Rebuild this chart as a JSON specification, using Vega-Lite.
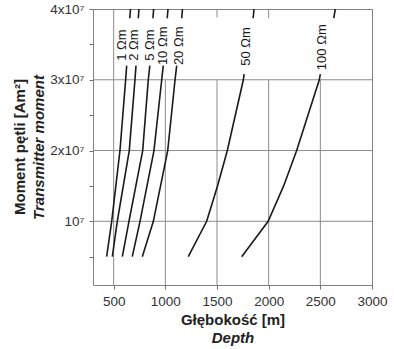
{
  "$schema": "https://vega.github.io/schema/vega-lite/v6.json",
  "autosize": "none",
  "padding": {"left": 93, "top": 9, "right": 22, "bottom": 64},
  "width": 279,
  "height": 276,
  "title": {"text": "Moment pętli [Am²]", "orient": "left", "anchor": "middle", "offset": 4, "font": "Liberation Sans", "fontSize": 15, "fontWeight": "bold", "color": "#222222"},
  "config": {
    "font": "Liberation Sans",
    "view": {"stroke": "#808080", "strokeWidth": 1},
    "axis": {
      "domain": false,
      "grid": false,
      "tickColor": "#707070",
      "tickSize": 4,
      "labelColor": "#333333",
      "labelFont": "Liberation Sans",
      "labelFontSize": 13.5,
      "labelFlush": false,
      "labelOverlap": false,
      "titleFont": "Liberation Sans",
      "titleFontSize": 15,
      "titleFontWeight": "bold",
      "titleColor": "#222222"
    }
  },
  "datasets": {
    "grid": [
      {"x1": 500, "x2": 500, "y1": 1000000, "y2": 40000000},
      {"x1": 1000, "x2": 1000, "y1": 1000000, "y2": 30000000},
      {"x1": 1500, "x2": 1500, "y1": 1000000, "y2": 30000000},
      {"x1": 1500, "x2": 1500, "y1": 38800000, "y2": 40000000},
      {"x1": 2000, "x2": 2000, "y1": 1000000, "y2": 30000000},
      {"x1": 2000, "x2": 2000, "y1": 38700000, "y2": 40000000},
      {"x1": 2500, "x2": 2500, "y1": 1000000, "y2": 30000000},
      {"x1": 300, "x2": 3000, "y1": 10000000, "y2": 10000000},
      {"x1": 300, "x2": 3000, "y1": 20000000, "y2": 20000000},
      {"x1": 300, "x2": 3000, "y1": 30000000, "y2": 30000000}
    ],
    "curves": [
      {"curve": "1", "depth": 432, "moment": 5000000},
      {"curve": "1", "depth": 481, "moment": 10000000},
      {"curve": "1", "depth": 561, "moment": 20000000},
      {"curve": "1", "depth": 616, "moment": 30000000},
      {"curve": "1", "depth": 626, "moment": 32000000},
      {"curve": "1t", "depth": 656, "moment": 38700000},
      {"curve": "1t", "depth": 663, "moment": 40000000},
      {"curve": "2", "depth": 487, "moment": 5000000},
      {"curve": "2", "depth": 535, "moment": 10000000},
      {"curve": "2", "depth": 651, "moment": 20000000},
      {"curve": "2", "depth": 706, "moment": 30000000},
      {"curve": "2", "depth": 716, "moment": 32000000},
      {"curve": "2t", "depth": 738, "moment": 38700000},
      {"curve": "2t", "depth": 745, "moment": 40000000},
      {"curve": "5", "depth": 584, "moment": 5000000},
      {"curve": "5", "depth": 648, "moment": 10000000},
      {"curve": "5", "depth": 781, "moment": 20000000},
      {"curve": "5", "depth": 835, "moment": 30000000},
      {"curve": "5", "depth": 850, "moment": 32000000},
      {"curve": "5t", "depth": 880, "moment": 38700000},
      {"curve": "5t", "depth": 887, "moment": 40000000},
      {"curve": "10", "depth": 680, "moment": 5000000},
      {"curve": "10", "depth": 755, "moment": 10000000},
      {"curve": "10", "depth": 890, "moment": 20000000},
      {"curve": "10", "depth": 965, "moment": 30000000},
      {"curve": "10", "depth": 980, "moment": 32000000},
      {"curve": "10t", "depth": 1018, "moment": 38700000},
      {"curve": "10t", "depth": 1026, "moment": 40000000},
      {"curve": "20", "depth": 777, "moment": 5000000},
      {"curve": "20", "depth": 884, "moment": 10000000},
      {"curve": "20", "depth": 1023, "moment": 20000000},
      {"curve": "20", "depth": 1094, "moment": 30000000},
      {"curve": "20", "depth": 1110, "moment": 32000000},
      {"curve": "20t", "depth": 1158, "moment": 38700000},
      {"curve": "20t", "depth": 1166, "moment": 40000000},
      {"curve": "50", "depth": 1222, "moment": 5000000},
      {"curve": "50", "depth": 1400, "moment": 10000000},
      {"curve": "50", "depth": 1505, "moment": 15000000},
      {"curve": "50", "depth": 1600, "moment": 20000000},
      {"curve": "50", "depth": 1755, "moment": 30000000},
      {"curve": "50", "depth": 1762, "moment": 30800000},
      {"curve": "50t", "depth": 1850, "moment": 38700000},
      {"curve": "50t", "depth": 1858, "moment": 40000000},
      {"curve": "100", "depth": 1739, "moment": 5000000},
      {"curve": "100", "depth": 1995, "moment": 10000000},
      {"curve": "100", "depth": 2145, "moment": 15000000},
      {"curve": "100", "depth": 2271, "moment": 20000000},
      {"curve": "100", "depth": 2490, "moment": 30000000},
      {"curve": "100", "depth": 2500, "moment": 30800000},
      {"curve": "100t", "depth": 2630, "moment": 38700000},
      {"curve": "100t", "depth": 2645, "moment": 40000000}
    ],
    "labels": [
      {"label": "1 Ωm", "depth": 581, "moment": 34900000},
      {"label": "2 Ωm", "depth": 697, "moment": 34900000},
      {"label": "5 Ωm", "depth": 852, "moment": 34900000},
      {"label": "10 Ωm", "depth": 977, "moment": 34800000},
      {"label": "20 Ωm", "depth": 1132, "moment": 34800000},
      {"label": "50 Ωm", "depth": 1781, "moment": 34700000},
      {"label": "100 Ωm", "depth": 2516, "moment": 34600000}
    ]
  },
  "layer": [
    {
      "layer": [
        {
          "data": {"name": "grid"},
          "mark": {"type": "rule", "color": "#8c8c8c", "strokeWidth": 1},
          "encoding": {
            "x": {
              "field": "x1", "type": "quantitative",
              "scale": {"domain": [300, 3000], "nice": false, "zero": false},
              "axis": {
                "title": "Głębokość [m]",
                "titlePadding": 5,
                "values": [500, 750, 1000, 1250, 1500, 1750, 2000, 2250, 2500, 2750, 3000],
                "labelExpr": "datum.value % 500 == 0 ? '' + datum.value : ''",
                "labelPadding": 5
              }
            },
            "x2": {"field": "x2"},
            "y": {
              "field": "y1", "type": "quantitative",
              "scale": {"domain": [1000000, 40000000], "nice": false, "zero": false},
              "axis": {
                "title": "Transmitter moment",
                "titleFontStyle": "italic",
                "titlePadding": 3,
                "values": [5000000, 10000000, 15000000, 20000000, 25000000, 30000000, 35000000, 40000000],
                "labelExpr": "datum.value == 10000000 ? '10⁷' : datum.value == 20000000 ? '2x10⁷' : datum.value == 30000000 ? '3x10⁷' : datum.value == 40000000 ? '4x10⁷' : ''",
                "labelPadding": 5
              }
            },
            "y2": {"field": "y2"}
          }
        },
        {
          "data": {"name": "curves"},
          "mark": {"type": "line", "color": "#1a1a1a", "strokeWidth": 1.6},
          "encoding": {
            "x": {"field": "depth", "type": "quantitative"},
            "y": {
              "field": "moment", "type": "quantitative",
              "axis": {
                "title": "Transmitter moment",
                "titleFontStyle": "italic",
                "titlePadding": 3,
                "values": [5000000, 10000000, 15000000, 20000000, 25000000, 30000000, 35000000, 40000000],
                "labelExpr": "datum.value == 10000000 ? '10⁷' : datum.value == 20000000 ? '2x10⁷' : datum.value == 30000000 ? '3x10⁷' : datum.value == 40000000 ? '4x10⁷' : ''",
                "labelPadding": 5
              }
            },
            "detail": {"field": "curve"},
            "order": {"field": "moment", "type": "quantitative"}
          }
        },
        {
          "data": {"name": "labels"},
          "mark": {"type": "text", "angle": 270, "align": "center", "baseline": "middle", "fontSize": 13, "color": "#1a1a1a", "font": "Liberation Sans"},
          "encoding": {
            "x": {"field": "depth", "type": "quantitative"},
            "y": {
              "field": "moment", "type": "quantitative",
              "axis": {
                "title": "Transmitter moment",
                "titleFontStyle": "italic",
                "titlePadding": 3,
                "values": [5000000, 10000000, 15000000, 20000000, 25000000, 30000000, 35000000, 40000000],
                "labelExpr": "datum.value == 10000000 ? '10⁷' : datum.value == 20000000 ? '2x10⁷' : datum.value == 30000000 ? '3x10⁷' : datum.value == 40000000 ? '4x10⁷' : ''",
                "labelPadding": 5
              }
            },
            "text": {"field": "label"}
          }
        }
      ]
    },
    {
      "data": {"name": "labels"},
      "mark": {"type": "point", "opacity": 0},
      "encoding": {
        "x": {
          "field": "depth", "type": "quantitative",
          "scale": {"domain": [300, 3000], "nice": false, "zero": false},
          "axis": {"orient": "bottom", "labels": false, "ticks": false, "domain": false, "title": "Depth", "titleFontStyle": "italic", "titlePadding": 45}
        },
        "y": {
          "field": "moment", "type": "quantitative",
          "axis": {
            "title": "Transmitter moment",
            "titleFontStyle": "italic",
            "titlePadding": 3,
            "values": [5000000, 10000000, 15000000, 20000000, 25000000, 30000000, 35000000, 40000000],
            "labelExpr": "datum.value == 10000000 ? '10⁷' : datum.value == 20000000 ? '2x10⁷' : datum.value == 30000000 ? '3x10⁷' : datum.value == 40000000 ? '4x10⁷' : ''",
            "labelPadding": 5
          }
        }
      }
    }
  ],
  "resolve": {"scale": {"x": "independent"}}
}
